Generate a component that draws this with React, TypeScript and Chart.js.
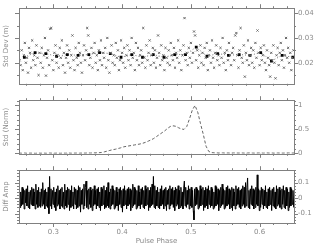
import React, { useEffect, useRef } from "react";
import Chart from "chart.js/auto";

// ---- axes ----
const PHASE_MIN = 0.25;
const PHASE_MAX = 0.65;
const X_TICKS = [0.3, 0.4, 0.5, 0.6];
const STD_TICKS = [0.02, 0.03, 0.04];
const PROF_TICKS = [0, 0.5, 1];
const DIFF_TICKS = [-0.1, 0, 0.1];

// ---- top panel: standard deviation per phase bin ----
const STD_PHASE_STEP = 0.4 / 260;
const STD_DEV = [
  0.021, 0.019, 0.025, 0.017, 0.023, 0.028, 0.020, 0.022, 0.016, 0.026, 0.024, 0.018, 0.029, 0.021, 0.023, 0.019, 0.027, 0.022, 0.015, 0.024,
  0.020, 0.026, 0.018, 0.023, 0.030, 0.0148, 0.022, 0.025, 0.019, 0.0337, 0.034, 0.021, 0.017, 0.024, 0.027, 0.020, 0.023, 0.018, 0.026, 0.022,
  0.029, 0.019, 0.024, 0.016, 0.022, 0.027, 0.020, 0.025, 0.018, 0.023, 0.031, 0.021, 0.017, 0.026, 0.022, 0.019, 0.028, 0.024, 0.020, 0.016,
  0.023, 0.027, 0.021, 0.025, 0.034, 0.031, 0.019, 0.022, 0.026, 0.018, 0.024, 0.028, 0.020, 0.023, 0.017, 0.025, 0.021, 0.029, 0.019, 0.024,
  0.022, 0.026, 0.018, 0.030, 0.021, 0.016, 0.024, 0.027, 0.020, 0.023, 0.019, 0.028, 0.022, 0.025, 0.017, 0.021, 0.029, 0.024, 0.020, 0.026,
  0.018, 0.023, 0.027, 0.021, 0.025, 0.019, 0.030, 0.022, 0.024, 0.017, 0.028, 0.021, 0.026, 0.019, 0.023, 0.025, 0.020, 0.034, 0.022, 0.018,
  0.027, 0.021, 0.024, 0.029, 0.019, 0.023, 0.026, 0.020, 0.025, 0.018, 0.022, 0.031, 0.024, 0.019, 0.027, 0.021, 0.023, 0.017, 0.026, 0.022,
  0.020, 0.025, 0.019, 0.028, 0.023, 0.021, 0.026, 0.018, 0.024, 0.022, 0.029, 0.020, 0.025, 0.017, 0.023, 0.027, 0.038, 0.021, 0.024, 0.019,
  0.026, 0.022, 0.028, 0.020, 0.024, 0.0326, 0.031, 0.021, 0.025, 0.018, 0.023, 0.027, 0.020, 0.024, 0.019, 0.026, 0.022, 0.028, 0.017, 0.023,
  0.025, 0.020, 0.029, 0.022, 0.018, 0.024, 0.027, 0.021, 0.023, 0.019, 0.026, 0.022, 0.030, 0.020, 0.024, 0.017, 0.025, 0.021, 0.028, 0.023,
  0.019, 0.024, 0.026, 0.021, 0.031, 0.032, 0.023, 0.018, 0.025, 0.034, 0.022, 0.020, 0.027, 0.0144, 0.024, 0.021, 0.029, 0.019, 0.023, 0.026,
  0.020, 0.025, 0.018, 0.028, 0.022, 0.033, 0.024, 0.019, 0.026, 0.021, 0.023, 0.027, 0.020, 0.017, 0.025, 0.022, 0.019, 0.0144, 0.024, 0.021,
  0.027, 0.020, 0.0137, 0.023, 0.026, 0.019, 0.024, 0.028, 0.021, 0.025, 0.018, 0.023, 0.030, 0.022, 0.026, 0.020, 0.024, 0.017, 0.022, 0.025,
];

// binned means (bin width 1/64 in phase)
const BIN_START = 0.2578;
const BIN_WIDTH = 0.015625;
const BIN_MEANS = [
  0.0222, 0.0241, 0.0237, 0.0226, 0.0233, 0.0230, 0.0233, 0.0241, 0.0237, 0.0222, 0.0233, 0.0222, 0.0233,
  0.0222, 0.0233, 0.0233, 0.0263, 0.0226, 0.0237, 0.0230, 0.0233, 0.0230, 0.0241, 0.0207, 0.0230, 0.0222,
];

// ---- middle panel: normalised profile ----
const PROF_STEP = 0.004;
const PROFILE = [
  0.005, 0.002, 0.006, 0.001, 0.004, 0.003, 0.000, 0.005, 0.002, 0.004, 0.001, 0.006, 0.003, 0.002, 0.005, 0.001, 0.004, 0.003, 0.006, 0.002,
  0.004, 0.005, 0.003, 0.006, 0.004, 0.007, 0.006, 0.008, 0.010, 0.012, 0.018, 0.030, 0.045, 0.060, 0.075, 0.085, 0.100, 0.115, 0.135, 0.145,
  0.155, 0.165, 0.175, 0.185, 0.195, 0.210, 0.230, 0.255, 0.280, 0.310, 0.350, 0.390, 0.430, 0.470, 0.520, 0.560, 0.575, 0.565, 0.535, 0.510,
  0.500, 0.560, 0.720, 0.900, 1.000, 0.860, 0.620, 0.400, 0.150, 0.040, 0.015, 0.010, 0.008, 0.006, 0.009, 0.005, 0.007, 0.004, 0.008, 0.006,
  0.005, 0.007, 0.004, 0.006, 0.008, 0.005, 0.003, 0.007, 0.006, 0.004, 0.008, 0.005, 0.006, 0.003, 0.007, 0.005, 0.004, 0.006, 0.008, 0.005,
  0.006,
];

// ---- bottom panel: difference amplitude ----
const DIFF_STEP = 0.4 / 400;
const DIFF_AMP = [
  0.05, -0.06, 0.04, -0.05, 0.07, -0.04, 0.06, -0.07, 0.05, -0.03, 0.06, -0.05, 0.08, -0.06, 0.04, -0.07, 0.05, -0.04, 0.07, -0.05,
  0.06, -0.05, 0.04, -0.07, 0.09, -0.04, 0.05, -0.06, 0.07, -0.05, 0.04, -0.06, 0.06, -0.05, 0.10, -0.04, 0.05, -0.07, 0.06, -0.05,
  0.04, -0.06, 0.07, -0.10, 0.14, -0.05, 0.06, -0.07, 0.05, -0.04, 0.07, -0.06, 0.04, -0.08, 0.06, -0.05, 0.08, -0.04, 0.05, -0.07,
  0.06, -0.05, 0.07, -0.06, 0.04, -0.07, 0.09, -0.05, 0.05, -0.06, 0.07, -0.04, 0.06, -0.08, 0.05, -0.06, 0.08, -0.05, 0.04, -0.07,
  0.07, -0.04, 0.06, -0.07, 0.05, -0.06, 0.08, -0.05, 0.07, -0.09, 0.05, -0.04, 0.06, -0.07, 0.09, -0.05, 0.07, 0.11, -0.06, 0.05,
  -0.07, 0.06, -0.04, 0.07, -0.06, 0.05, -0.08, 0.06, -0.05, 0.08, -0.04, 0.05, -0.07, 0.06, -0.05, 0.07, -0.06, 0.04, -0.08, 0.07,
  -0.05, 0.06, -0.04, 0.08, -0.07, 0.05, -0.06, 0.07, -0.05, 0.10, -0.06, 0.04, -0.07, 0.06, -0.05, 0.08, -0.04, 0.06, -0.07, 0.05,
  -0.06, 0.07, -0.05, 0.04, -0.08, 0.06, -0.04, 0.07, -0.06, 0.05, -0.09, 0.06, -0.05, 0.08, -0.04, 0.05, -0.07, 0.06, -0.05, 0.07,
  -0.04, 0.06, -0.08, 0.05, -0.06, 0.09, -0.05, 0.07, -0.04, 0.06, -0.07, 0.05, -0.06, 0.08, -0.05, 0.04, -0.07, 0.06, -0.04, 0.07,
  -0.06, 0.05, -0.07, 0.08, -0.05, 0.06, -0.04, 0.07, -0.08, 0.05, -0.06, 0.07, -0.05, 0.09, -0.04, 0.14, -0.06, 0.08, -0.07, 0.05,
  -0.05, 0.07, -0.06, 0.04, -0.07, 0.06, -0.05, 0.08, -0.04, 0.05, -0.07, 0.06, -0.05, 0.07, -0.08, 0.05, -0.04, 0.06, -0.07, 0.08,
  -0.05, 0.06, -0.04, 0.07, -0.06, 0.05, -0.08, 0.07, -0.05, 0.06, -0.04, 0.08, -0.07, 0.05, -0.06, 0.07, -0.05, 0.04, -0.07, 0.06,
  0.11, -0.05, 0.07, -0.06, 0.05, -0.04, 0.08, -0.07, 0.06, -0.05, 0.07, -0.06, 0.05, -0.08, -0.14, 0.06, -0.05, 0.07, -0.04, 0.06,
  -0.07, 0.05, -0.06, 0.08, -0.05, 0.06, -0.04, 0.07, -0.08, 0.05, -0.06, 0.07, -0.05, 0.06, -0.07, 0.08, -0.04, 0.05, -0.06, 0.07,
  -0.05, 0.06, -0.07, 0.04, -0.06, 0.08, -0.05, 0.07, -0.04, 0.06, -0.08, 0.05, -0.06, 0.07, -0.05, 0.09, -0.04, 0.06, -0.07, 0.05,
  -0.06, 0.07, -0.05, 0.08, -0.04, 0.06, -0.07, 0.05, -0.06, 0.07, -0.08, 0.06, -0.05, 0.04, -0.07, 0.08, -0.05, 0.06, -0.04, 0.07,
  -0.06, 0.05, -0.07, 0.06, -0.05, 0.08, -0.04, 0.07, -0.06, 0.10, -0.05, 0.07, 0.13, -0.06, 0.05, -0.07, 0.06, -0.04, 0.08, -0.05,
  0.06, -0.07, 0.05, -0.06, 0.07, -0.04, 0.15, -0.05, 0.06, -0.08, 0.05, -0.06, 0.07, -0.04, 0.06, -0.07, 0.05, -0.05, 0.08, -0.06,
  0.04, -0.07, 0.06, -0.05, 0.07, -0.04, 0.05, -0.08, 0.06, -0.05, 0.07, -0.06, 0.04, -0.07, 0.08, -0.05, 0.06, -0.04, 0.07, -0.06,
  0.05, -0.07, 0.06, -0.04, 0.08, -0.06, 0.05, -0.07, 0.07, -0.05, 0.06, -0.08, 0.04, -0.06, 0.07, -0.05, 0.06, -0.04, 0.05, -0.06,
];

const GREY = "#8a8a8a";
const FRAME = "#808080";
const TICK_FONT = { family: "DejaVu Sans", size: 7 };
const TITLE_FONT = { family: "DejaVu Sans", size: 7 };

const framePlugin = {
  id: "frame",
  afterDraw(chart: any, _args: any, opts: any) {
    const { ctx, chartArea: a } = chart;
    const xs = chart.scales.x;
    const ys = chart.scales.y;
    ctx.save();
    ctx.strokeStyle = FRAME;
    ctx.lineWidth = 1;
    ctx.strokeRect(Math.round(a.left) + 0.5, Math.round(a.top) + 0.5, Math.round(a.right - a.left), Math.round(a.bottom - a.top));
    ctx.beginPath();
    const xStep = 0.02;
    for (let v = 0.26; v < PHASE_MAX - 1e-9; v += xStep) {
      const major = X_TICKS.some((t) => Math.abs(t - v) < 1e-6);
      const len = major ? 4 : 2;
      const px = Math.round(xs.getPixelForValue(v)) + 0.5;
      ctx.moveTo(px, a.top);
      ctx.lineTo(px, a.top - len);
      ctx.moveTo(px, a.bottom);
      ctx.lineTo(px, a.bottom + len);
    }
    const yMajors: number[] = opts.majors;
    for (let v = opts.minorFrom; v <= ys.max + 1e-9; v += opts.minorStep) {
      if (v < ys.min) continue;
      const major = yMajors.some((t) => Math.abs(t - v) < 1e-6);
      const len = major ? 4 : 2;
      const py = Math.round(ys.getPixelForValue(v)) + 0.5;
      ctx.moveTo(a.left, py);
      ctx.lineTo(a.left - len, py);
      ctx.moveTo(a.right, py);
      ctx.lineTo(a.right + len, py);
    }
    ctx.stroke();
    ctx.restore();
  },
};

function fmt(v: number) {
  return String(Math.round(v * 1000) / 1000);
}

function yAxes(min: number, max: number, ticks: number[], title: string) {
  return {
    y: {
      position: "right",
      min,
      max,
      grid: { display: false, drawTicks: false },
      border: { display: false },
      afterBuildTicks: (s: any) => {
        s.ticks = ticks.map((value) => ({ value }));
      },
      afterFit: (s: any) => {
        s.width = 23;
      },
      ticks: { font: TICK_FONT, color: GREY, padding: 4, callback: (v: any) => fmt(Number(v)) },
    },
    yl: {
      position: "left",
      min,
      max,
      grid: { display: false, drawTicks: false },
      border: { display: false },
      ticks: { display: false },
      afterFit: (s: any) => {
        s.width = 19;
      },
      title: { display: true, text: title, font: TITLE_FONT, color: GREY, padding: { top: 2, bottom: 0 } },
    },
  };
}

function hiddenX() {
  return { type: "linear", min: PHASE_MIN, max: PHASE_MAX, display: false };
}

export default function App() {
  const r1 = useRef<HTMLCanvasElement>(null);
  const r2 = useRef<HTMLCanvasElement>(null);
  const r3 = useRef<HTMLCanvasElement>(null);

  useEffect(() => {
    const common = {
      animation: false,
      responsive: false,
      events: [],
      plugins: { legend: { display: false }, tooltip: { enabled: false } },
    };

    const stdPts = STD_DEV.map((y, i) => ({ x: PHASE_MIN + (i + 0.5) * STD_PHASE_STEP, y }));
    const binPts = BIN_MEANS.map((y, i) => ({ x: BIN_START + i * BIN_WIDTH, y }));
    const profPts = PROFILE.map((y, i) => ({ x: PHASE_MIN + i * PROF_STEP, y }));
    const diffPts = DIFF_AMP.map((y, i) => ({ x: PHASE_MIN + (i + 0.5) * DIFF_STEP, y }));

    const c1 = new Chart(r1.current!, {
      type: "scatter",
      data: {
        datasets: [
          {
            data: stdPts,
            pointStyle: "crossRot",
            pointRadius: 1.5,
            borderColor: "#666",
            backgroundColor: "#666",
            borderWidth: 1,
          },
          {
            data: binPts,
            showLine: true,
            borderColor: "#777",
            borderWidth: 1,
            borderDash: [1, 2],
            pointStyle: "rect",
            pointRadius: 2,
            pointBackgroundColor: "#000",
            pointBorderColor: "#000",
            pointBorderWidth: 0,
          },
        ],
      },
      options: {
        ...common,
        layout: { padding: { top: 3, bottom: 7, left: 0, right: 0 } },
        scales: { x: hiddenX(), ...yAxes(0.0115, 0.042, STD_TICKS, "Std Dev (m)") },
        plugins: { ...common.plugins, frame: { majors: STD_TICKS, minorFrom: 0.015, minorStep: 0.005 } },
      } as any,
      plugins: [framePlugin],
    } as any);

    const c2 = new Chart(r2.current!, {
      type: "line",
      data: {
        datasets: [
          {
            data: profPts,
            borderColor: "#666",
            borderWidth: 1,
            borderDash: [3, 2],
            pointRadius: 0,
            tension: 0,
          },
        ],
      },
      options: {
        ...common,
        layout: { padding: { top: 7, bottom: 7, left: 0, right: 0 } },
        scales: { x: hiddenX(), ...yAxes(-0.01, 1.11, PROF_TICKS, "Std (Norm)") },
        plugins: { ...common.plugins, frame: { majors: PROF_TICKS, minorFrom: 0, minorStep: 0.1 } },
      } as any,
      plugins: [framePlugin],
    } as any);

    const c3 = new Chart(r3.current!, {
      type: "line",
      data: {
        datasets: [
          {
            data: diffPts,
            borderColor: "#000",
            borderWidth: 1,
            pointRadius: 0,
            tension: 0,
          },
        ],
      },
      options: {
        ...common,
        layout: { padding: { top: 5, bottom: 0, left: 0, right: 0 } },
        scales: {
          x: {
            type: "linear",
            min: PHASE_MIN,
            max: PHASE_MAX,
            position: "bottom",
            grid: { display: false, drawTicks: false },
            border: { display: false },
            afterBuildTicks: (s: any) => {
              s.ticks = X_TICKS.map((value) => ({ value }));
            },
            afterFit: (s: any) => {
              s.height = 22;
            },
            ticks: { font: TICK_FONT, color: GREY, padding: 5, maxRotation: 0, autoSkip: false, callback: (v: any) => fmt(Number(v)) },
            title: { display: true, text: "Pulse Phase", font: TITLE_FONT, color: GREY, padding: { top: 0, bottom: 0 } },
          },
          ...yAxes(-0.16, 0.18, DIFF_TICKS, "Diff Amp"),
        },
        plugins: { ...common.plugins, frame: { majors: DIFF_TICKS, minorFrom: -0.16, minorStep: 0.02 } },
      } as any,
      plugins: [framePlugin],
    } as any);

    return () => {
      c1.destroy();
      c2.destroy();
      c3.destroy();
    };
  }, []);

  const cs = (top: number, h: number): React.CSSProperties => ({ position: "absolute", left: 0, top, width: 317, height: h });
  return (
    <div style={{ position: "fixed", left: 0, top: 0, width: 317, height: 245, background: "#fff", overflow: "hidden" }}>
      <canvas ref={r1} width={317} height={92} style={cs(0, 92)} />
      <canvas ref={r2} width={317} height={70} style={cs(92, 70)} />
      <canvas ref={r3} width={317} height={83} style={cs(162, 83)} />
    </div>
  );
}
